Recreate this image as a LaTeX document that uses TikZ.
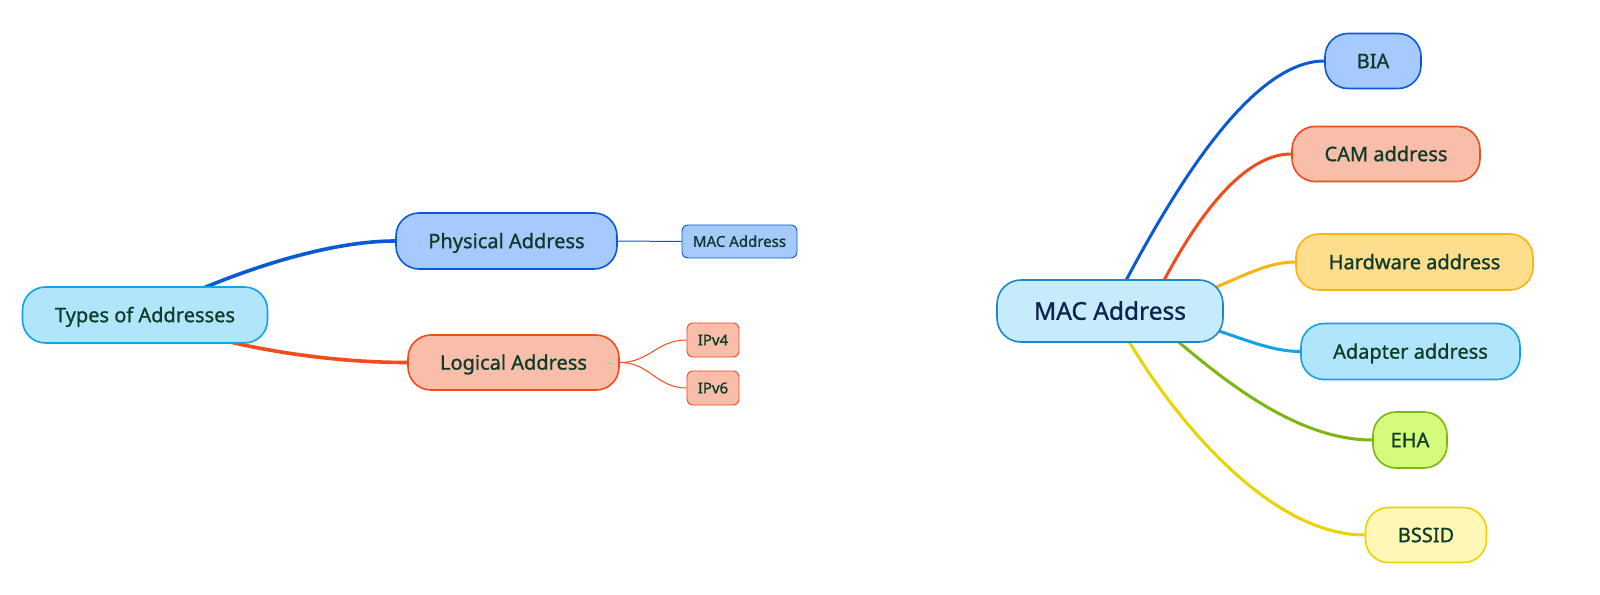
\documentclass[tikz,border=0pt]{standalone}
\usepackage{fontspec}
\setmainfont{Noto Sans}[FakeBold=1.0]
\usetikzlibrary{backgrounds}
\definecolor{txtgreen}{HTML}{0E3B2A}
\definecolor{txtnavy}{HTML}{0F2350}
\definecolor{cyanfill}{HTML}{B1E5FB}
\definecolor{cyanline}{HTML}{12A3E6}
\definecolor{bluefill}{HTML}{A7CAFE}
\definecolor{blueline}{HTML}{0A5AD6}
\definecolor{redfill}{HTML}{F8BEA9}
\definecolor{redline}{HTML}{F24C1C}
\definecolor{macfill}{HTML}{C6EBFB}
\definecolor{macline}{HTML}{1C88CA}
\definecolor{orfill}{HTML}{FEDD8D}
\definecolor{orline}{HTML}{FBB414}
\definecolor{grfill}{HTML}{D5FB7D}
\definecolor{grline}{HTML}{7DB60E}
\definecolor{yefill}{HTML}{FFF7B6}
\definecolor{yeline}{HTML}{E9D300}
\begin{document}
\begin{tikzpicture}[x=1pt,y=-1pt,
  topic/.style={draw, rounded corners=23pt, line width=1.6pt, inner sep=0pt, text=txtgreen,
    font=\fontsize{20}{24}\selectfont, text height=14.3pt, text depth=0pt},
  sub/.style={draw, rounded corners=6pt, line width=0.9pt, inner sep=0pt, text=txtgreen,
    font=\fontsize{15}{18}\selectfont, text height=10.7pt, text depth=0pt},
  branch/.style={line width=3pt},
  thickbranch/.style={line width=3.6pt},
  twig/.style={line width=1pt}]
\useasboundingbox (0,0) rectangle (1600,594);
% left map
\node[topic, fill=cyanfill, draw=cyanline, minimum width=245pt, minimum height=56pt] (types) at (145,315) {Types of Addresses};
\node[topic, fill=bluefill, draw=blueline, minimum width=221pt, minimum height=56pt] (phys) at (506.5,241) {Physical Address};
\node[topic, fill=redfill, draw=redline, minimum width=211pt, minimum height=55pt] (logi) at (513.5,362.5) {Logical Address};
\node[sub, fill=bluefill, draw=blueline, minimum width=115pt, minimum height=33pt] (macs) at (739.5,241.5) {MAC Address};
\node[sub, fill=redfill, draw=redline, minimum width=52pt, minimum height=34pt] (ipv4) at (713,340) {IPv4};
\node[sub, fill=redfill, draw=redline, minimum width=52pt, minimum height=34pt] (ipv6) at (713,388) {IPv6};
% right map
\node[topic, fill=macfill, draw=macline, rounded corners=24pt, minimum width=226pt, minimum height=62pt, text=txtnavy,
  font=\fontsize{24.5}{28}\selectfont, text height=17.5pt] (mac) at (1110,311) {MAC Address};
\node[topic, fill=bluefill, draw=blueline, minimum width=96pt, minimum height=55pt] (bia) at (1373,61) {BIA};
\node[topic, fill=redfill, draw=redline, minimum width=188pt, minimum height=55pt] (cam) at (1386,154) {CAM address};
\node[topic, fill=orfill, draw=orline, minimum width=237pt, minimum height=56pt] (hw) at (1414.5,262) {Hardware address};
\node[topic, fill=cyanfill, draw=cyanline, minimum width=219pt, minimum height=56pt] (adp) at (1410.5,351.5) {Adapter address};
\node[topic, fill=grfill, draw=grline, minimum width=74pt, minimum height=56pt] (eha) at (1410,440) {EHA};
\node[topic, fill=yefill, draw=yeline, minimum width=121pt, minimum height=55pt] (bssid) at (1426,535) {BSSID};
\begin{scope}[on background layer]
\fill[white] (0,0) rectangle (1600,594);
\draw[thickbranch, blueline] (types.center) .. controls +(68,-35) and +(-78,0) .. (phys.west);
\draw[thickbranch, redline] (types.center) .. controls +(70,30) and +(-88,0) .. (logi.west);
\draw[twig, blueline] (phys.east) -- (macs.west);
\draw[twig, redline] (logi.east) .. controls +(30,0) and +(-30,0) .. (ipv4.west);
\draw[twig, redline] (logi.east) .. controls +(30,0) and +(-30,0) .. (ipv6.west);
\draw[branch, blueline] ([xshift=15pt,yshift=-3pt]mac.north) .. controls +(46,-86) and +(-75,0) .. (bia.west);
\draw[branch, redline] ([xshift=53pt,yshift=-3pt]mac.north) .. controls +(36,-68) and +(-47,0) .. (cam.west);
\draw[branch, orline] (mac.center) .. controls +(90,0) and +(-50,0) .. (hw.west);
\draw[branch, cyanline] (mac.center) .. controls +(90,0) and +(-51,0) .. (adp.west);
\draw[branch, grline] ([xshift=66pt,yshift=3pt]mac.south) .. controls +(52,44) and +(-73.5,0) .. (eha.west);
\draw[branch, yeline] ([xshift=18pt,yshift=3pt]mac.south) .. controls +(46,78) and +(-95.5,0) .. (bssid.west);
\end{scope}
\end{tikzpicture}
\end{document}
